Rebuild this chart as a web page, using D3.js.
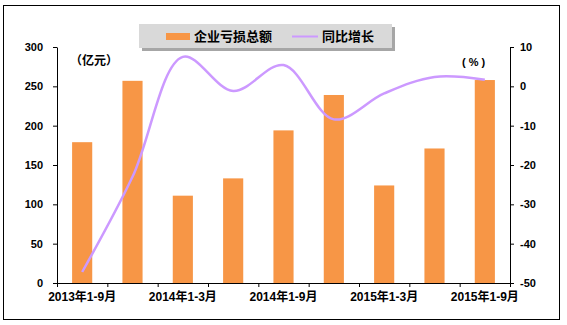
<!DOCTYPE html>
<html>
<head>
<meta charset="utf-8">
<script src="https://cdn.jsdelivr.net/npm/d3@7"></script>
<style>
  body { margin: 0; background: #fff; }
  text { font-family: "Liberation Sans", Arial, "Noto Sans CJK SC", sans-serif; font-weight: bold; }
</style>
</head>
<body>
<svg id="chart" width="567" height="325"></svg>
<script>
// categories along the bottom (only every other one is labelled)
var categories = [
    '2013年1-9月', '2013年1-12月', '2014年1-3月', '2014年1-6月', '2014年1-9月',
    '2014年1-12月', '2015年1-3月', '2015年1-6月', '2015年1-9月'
];
// 企业亏损总额 (亿元)
var lossTotal = [179, 257, 111, 133, 194, 239, 124, 171, 258];
// 同比增长 (%)
var yoyGrowth = [-47.2, -23, 7.5, -1.2, 5.4, -8.4, -1.8, 2.4, 1.7];

var leftTicks = [0, 50, 100, 150, 200, 250, 300];
var rightTicks = [-50, -40, -30, -20, -10, 0, 10];

var barColor = '#f79646';
var lineColor = '#cc99ff';

var svg = d3.select('#chart');
var plotLeft = 57, plotRight = 510, plotTop = 47, plotBottom = 283;

// outer frame
svg.append('rect')
    .attr('x', 3.5).attr('y', 5.5)
    .attr('width', 556).attr('height', 314)
    .attr('fill', '#fff').attr('stroke', '#000');

var x = d3.scaleBand().domain(categories).range([plotLeft, plotRight]).padding(0);
var yL = d3.scaleLinear().domain([0, 300]).range([plotBottom, plotTop]);
var yR = d3.scaleLinear().domain([-50, 10]).range([plotBottom, plotTop]);

// bars
svg.append('g').selectAll('rect').data(lossTotal).enter().append('rect')
    .attr('x', function(d, i) { return x(categories[i]) + x.bandwidth() * 0.3 })
    .attr('width', x.bandwidth() * 0.4)
    .attr('y', function(d) { return yL(d) })
    .attr('height', function(d) { return yL(0) - yL(d) })
    .attr('fill', barColor);

// growth line
var line = d3.line()
    .x(function(d, i) { return x(categories[i]) + x.bandwidth() / 2 })
    .y(function(d) { return yR(d) })
    .curve(d3.curveCatmullRom.alpha(0.5));

svg.append('path')
    .datum(yoyGrowth)
    .attr('d', line)
    .attr('fill', 'none')
    .attr('stroke', lineColor)
    .attr('stroke-width', 2.5);

// axes
function styleAxis(g, size) {
    g.selectAll('path, line').attr('stroke', '#000');
    g.selectAll('text').attr('fill', '#000').style('font-size', size + 'px');
    g.attr('font-family', null);
}

svg.append('g')
    .attr('transform', 'translate(' + plotLeft + ',0)')
    .call(d3.axisLeft(yL).tickValues(leftTicks).tickSize(4).tickSizeOuter(0).tickPadding(10))
    .call(styleAxis, 11);

svg.append('g')
    .attr('transform', 'translate(' + plotRight + ',0)')
    .call(d3.axisRight(yR).tickValues(rightTicks).tickSize(4).tickSizeOuter(0).tickPadding(6)
        .tickFormat(String))
    .call(styleAxis, 11);

var xAxis = svg.append('g')
    .attr('transform', 'translate(0,' + plotBottom + ')')
    .call(d3.axisBottom(x).tickSize(0).tickSizeOuter(0).tickPadding(9)
        .tickFormat(function(d, i) { return i % 2 === 0 ? d : '' }))
    .call(styleAxis, 12);

// tick marks between categories
var edges = categories.map(function(c) { return x(c) }).concat([plotRight]);
xAxis.selectAll('.edge').data(edges).enter().append('line')
    .attr('class', 'edge')
    .attr('x1', function(d) { return d + 0.5 }).attr('x2', function(d) { return d + 0.5 })
    .attr('y1', 0).attr('y2', 4)
    .attr('stroke', '#000');

// units
svg.append('text').attr('x', 70).attr('y', 65).style('font-size', '12px').text('（亿元）');
svg.append('text').attr('x', 462).attr('y', 66).style('font-size', '11px').text('( % )');

// legend
var legend = svg.append('g');
legend.append('rect')
    .attr('x', 142).attr('y', 27).attr('width', 253).attr('height', 24)
    .attr('fill', '#a6a6a6');
legend.append('rect')
    .attr('x', 139).attr('y', 24).attr('width', 253).attr('height', 24)
    .attr('fill', '#d9d9d9');
legend.append('rect')
    .attr('x', 166).attr('y', 33).attr('width', 24).attr('height', 7)
    .attr('fill', barColor);
legend.append('text').attr('x', 194).attr('y', 41).style('font-size', '13px').text('企业亏损总额');
legend.append('line')
    .attr('x1', 292).attr('x2', 318).attr('y1', 36.5).attr('y2', 36.5)
    .attr('stroke', lineColor).attr('stroke-width', 2);
legend.append('text').attr('x', 322).attr('y', 41).style('font-size', '13px').text('同比增长');
</script>
</body>
</html>
